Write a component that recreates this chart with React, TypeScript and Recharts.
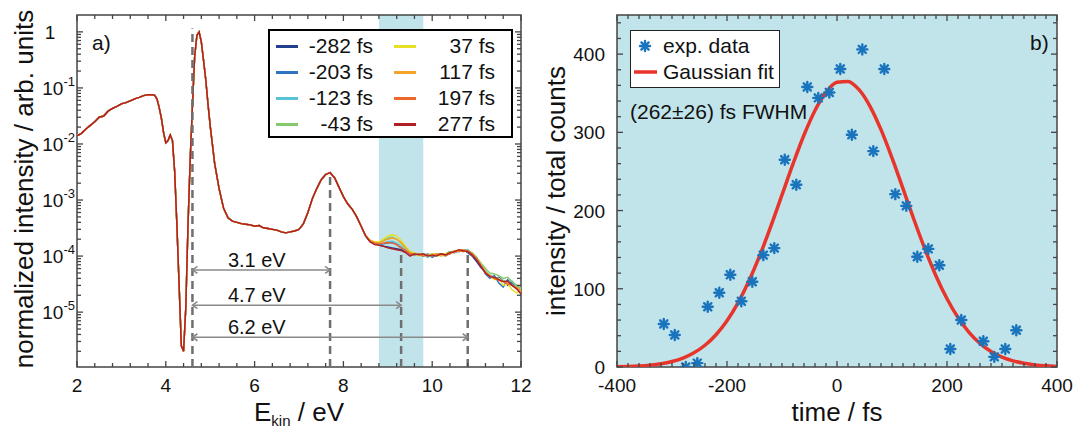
import React from "react";
import {
  LineChart,
  Line,
  ComposedChart,
  Scatter,
  XAxis,
  YAxis,
  ReferenceArea,
  ReferenceLine,
  ReferenceDot,
  Legend,
} from "recharts";

const FONT = "'Liberation Sans', Arial, Helvetica, sans-serif";
const AXIS = "#444444";
const TEXT = "#111111";
const SHADE = "#c1e4ea";

// ---------- panel a) : spectra for several delays ----------
const DELAYS = ["-282 fs", "-203 fs", "-123 fs", "-43 fs", "37 fs", "117 fs", "197 fs", "277 fs"];
const DELAY_COLORS = ["#233f8f", "#2f74c1", "#59c3d6", "#85c96f", "#e6e024", "#f5a42a", "#ef662b", "#b01f24"];

// part of the spectrum where all delays coincide
const E_HEAD = [
  2.0, 2.1, 2.2, 2.3, 2.4, 2.5, 2.6, 2.7, 2.8, 2.9, 3.0, 3.1, 3.2, 3.3, 3.4, 3.5, 3.6, 3.7, 3.75, 3.8,
  3.85, 3.9, 3.95, 4.0, 4.05, 4.1, 4.15, 4.2, 4.25, 4.3, 4.35, 4.4, 4.45, 4.5, 4.55, 4.6, 4.65, 4.7,
  4.75, 4.8, 4.85, 4.9, 4.95, 5.0, 5.1, 5.2, 5.3, 5.4, 5.5, 5.6, 5.7, 5.8, 5.9, 6.0, 6.1, 6.2, 6.3,
  6.4, 6.5, 6.6, 6.7, 6.8, 6.9, 7.0, 7.1, 7.2, 7.3, 7.4, 7.5, 7.6, 7.7, 7.8, 7.9, 8.0, 8.1, 8.2, 8.3,
  8.4, 8.5,
];
const I_HEAD = [
  0.014, 0.0155, 0.0185, 0.0215, 0.025, 0.03, 0.0315, 0.0385, 0.043, 0.047, 0.052, 0.0545, 0.059,
  0.064, 0.068, 0.073, 0.076, 0.0755, 0.074, 0.064, 0.045, 0.029, 0.016, 0.0105, 0.0115, 0.0145,
  0.0115, 0.0032, 0.00035, 0.00003, 0.0000025, 0.000002, 0.000012, 0.00035, 0.0055, 0.048, 0.36,
  0.86, 1.0, 0.66, 0.31, 0.14, 0.052, 0.021, 0.0045, 0.0016, 0.00072, 0.00048, 0.00042, 0.0004,
  0.00038, 0.00037, 0.00036, 0.00034, 0.00035, 0.00032, 0.00031, 0.0003, 0.00029, 0.00027, 0.00026,
  0.00027, 0.00028, 0.0003, 0.00038, 0.0006, 0.00105, 0.0016, 0.0023, 0.00285, 0.0031, 0.0025,
  0.0017, 0.00115, 0.00085, 0.00068, 0.0005, 0.00034, 0.00023,
];

// high-energy part, where the delays differ
const E_TAIL = [
  8.6, 8.7, 8.8, 8.9, 9.0, 9.1, 9.2, 9.3, 9.4, 9.5, 9.6, 9.7, 9.8, 9.9, 10.0, 10.1, 10.2, 10.3, 10.4,
  10.5, 10.6, 10.7, 10.8, 10.9, 11.0, 11.1, 11.2, 11.3, 11.4, 11.5, 11.6, 11.7, 11.8, 11.9, 12.0,
];
const I_TAIL = [
  [1.8e-4, 1.65e-4, 1.6e-4, 1.5e-4, 1.45e-4, 1.4e-4, 1.35e-4, 1.3e-4, 1.2e-4, 1.1e-4, 1.05e-4, 1.1e-4, 1.05e-4, 1.05e-4, 1.0e-4, 1.1e-4, 1.05e-4, 1.1e-4, 1.2e-4, 1.15e-4, 1.25e-4, 1.3e-4, 1.15e-4, 1.0e-4, 8.0e-5, 6.2e-5, 5.2e-5, 4.5e-5, 4.0e-5, 4.2e-5, 3.6e-5, 3.0e-5, 3.4e-5, 2.8e-5, 2.5e-5],
  [1.85e-4, 1.7e-4, 1.6e-4, 1.65e-4, 1.7e-4, 1.75e-4, 1.6e-4, 1.4e-4, 1.25e-4, 1.1e-4, 1.1e-4, 1.05e-4, 1.0e-4, 1.1e-4, 0.95e-4, 1.05e-4, 1.1e-4, 1.0e-4, 1.1e-4, 1.25e-4, 1.2e-4, 1.3e-4, 1.25e-4, 1.1e-4, 9.0e-5, 6.6e-5, 4.8e-5, 4.0e-5, 4.5e-5, 3.3e-5, 2.8e-5, 3.8e-5, 3.2e-5, 3.0e-5, 2.4e-5],
  [1.9e-4, 1.7e-4, 1.65e-4, 1.7e-4, 1.8e-4, 1.85e-4, 1.7e-4, 1.5e-4, 1.3e-4, 1.15e-4, 1.05e-4, 1.1e-4, 1.05e-4, 0.95e-4, 1.05e-4, 1.1e-4, 1.0e-4, 1.05e-4, 1.15e-4, 1.2e-4, 1.25e-4, 1.2e-4, 1.3e-4, 1.1e-4, 9.5e-5, 7.0e-5, 5.5e-5, 4.6e-5, 4.2e-5, 4.0e-5, 3.7e-5, 3.4e-5, 3.6e-5, 2.8e-5, 2.6e-5],
  [1.9e-4, 1.75e-4, 1.75e-4, 1.9e-4, 2.1e-4, 2.2e-4, 2.0e-4, 1.7e-4, 1.4e-4, 1.2e-4, 1.1e-4, 1.05e-4, 1.1e-4, 1.05e-4, 1.1e-4, 1.0e-4, 1.05e-4, 1.1e-4, 1.2e-4, 1.15e-4, 1.3e-4, 1.25e-4, 1.25e-4, 1.15e-4, 9.5e-5, 7.5e-5, 6.0e-5, 5.0e-5, 4.8e-5, 4.5e-5, 4.0e-5, 4.2e-5, 3.5e-5, 3.0e-5, 2.7e-5],
  [1.95e-4, 1.8e-4, 1.8e-4, 2.0e-4, 2.3e-4, 2.4e-4, 2.3e-4, 1.9e-4, 1.5e-4, 1.2e-4, 1.15e-4, 1.0e-4, 1.05e-4, 1.0e-4, 1.1e-4, 1.05e-4, 1.0e-4, 1.1e-4, 1.15e-4, 1.2e-4, 1.25e-4, 1.3e-4, 1.2e-4, 1.1e-4, 9.0e-5, 7.0e-5, 5.2e-5, 4.5e-5, 3.8e-5, 4.0e-5, 3.0e-5, 3.2e-5, 2.5e-5, 2.2e-5, 2.4e-5],
  [1.9e-4, 1.75e-4, 1.7e-4, 1.85e-4, 2.0e-4, 2.1e-4, 2.0e-4, 1.75e-4, 1.4e-4, 1.15e-4, 1.1e-4, 1.05e-4, 1.05e-4, 1.0e-4, 1.05e-4, 1.1e-4, 1.05e-4, 1.0e-4, 1.15e-4, 1.25e-4, 1.2e-4, 1.3e-4, 1.2e-4, 1.05e-4, 8.8e-5, 6.8e-5, 5.2e-5, 4.5e-5, 4.0e-5, 3.8e-5, 3.6e-5, 3.3e-5, 3.0e-5, 2.8e-5, 2.5e-5],
  [1.85e-4, 1.7e-4, 1.65e-4, 1.7e-4, 1.75e-4, 1.7e-4, 1.6e-4, 1.4e-4, 1.25e-4, 1.1e-4, 1.05e-4, 1.1e-4, 1.0e-4, 1.05e-4, 1.0e-4, 1.05e-4, 1.1e-4, 1.05e-4, 1.1e-4, 1.2e-4, 1.25e-4, 1.2e-4, 1.25e-4, 1.1e-4, 9.0e-5, 6.8e-5, 5.0e-5, 4.4e-5, 4.0e-5, 3.7e-5, 3.5e-5, 3.2e-5, 3.0e-5, 2.7e-5, 2.2e-5],
  [1.8e-4, 1.6e-4, 1.55e-4, 1.5e-4, 1.4e-4, 1.35e-4, 1.3e-4, 1.25e-4, 1.15e-4, 1.0e-4, 1.1e-4, 1.05e-4, 1.1e-4, 1.0e-4, 1.05e-4, 1.0e-4, 1.1e-4, 1.05e-4, 1.15e-4, 1.2e-4, 1.3e-4, 1.25e-4, 1.2e-4, 1.05e-4, 8.5e-5, 6.5e-5, 5.0e-5, 4.3e-5, 4.2e-5, 3.8e-5, 3.5e-5, 3.6e-5, 3.0e-5, 2.6e-5, 2.1e-5],
];

// markers drawn in panel a)
const DASH_E = [4.6, 7.7, 9.3, 10.8];
const DASH_TOP = [1.15, 3.0e-3, 1.1e-4, 1.05e-4];
const GAP_START = 4.6;
const GAP_END = [7.7, 9.3, 10.8];
const GAP_Y = [5.66e-5, 1.33e-5, 3.56e-6];
const GAP_LABELS = ["3.1 eV", "4.7 eV", "6.2 eV"];
const GAP_LABEL_X = 6.05;
const GAP_LABEL_Y = [8.55e-5, 2.02e-5, 5.4e-6];
const WINDOW = [8.8, 9.8];

// ---------- panel b) : cross correlation ----------
const T_EXP = [
  -315, -295, -275, -254, -235, -214, -194, -174, -154, -134, -114, -95, -74, -54, -34, -14, 6, 27, 46,
  66, 86, 106, 126, 146, 166, 186, 206, 226, 266, 286, 306, 326,
];
const C_EXP = [
  55, 41, 0, 5, 77, 95, 118, 84, 109, 143, 152, 265, 233, 358, 344, 351, 381, 297, 406, 276, 381,
  221, 206, 141, 151, 130, 23, 60, 33, 13, 23, 47,
];
const T_FIT = [
  -400, -380, -360, -340, -320, -300, -280, -260, -240, -220, -200, -180, -160, -140, -120, -100,
  -80, -60, -40, -20, 0, 20, 40, 60, 80, 100, 120, 140, 160, 180, 200, 220, 240, 260, 280, 300, 320,
  340, 360, 380, 400,
];
const C_FIT = [
  0.4, 0.7, 1.3, 2.4, 4.2, 7.1, 11.5, 18.2, 27.8, 41.2, 59.1, 82.0, 110.2, 143.3, 180.5, 220.0,
  259.6, 296.6, 328.0, 351.1, 363.9, 365.1, 354.5, 333.3, 303.4, 267.3, 228.0, 188.2, 150.5, 116.4,
  87.2, 63.2, 44.4, 30.2, 19.8, 12.6, 7.8, 4.7, 2.7, 1.5, 0.8,
];
const BLUE = "#1a74bd";
const RED = "#e8352c";

// ---------- ticks ----------
const X_TICKS_A = Array.from({ length: 26 }, (_, i) => Number((2 + i * 0.4).toFixed(1)));
const Y_TICKS_A: number[] = [];
for (let n = -6; n <= 0; n++) {
  for (let k = 1; k <= 9; k++) {
    const v = Number((k * Math.pow(10, n)).toPrecision(3));
    if (v > 1.05e-6 && v <= 1) Y_TICKS_A.push(v);
  }
}
const X_TICKS_B = Array.from({ length: 41 }, (_, i) => -400 + i * 20);
const Y_TICKS_B = Array.from({ length: 23 }, (_, i) => i * 20);

const PLOT_H = 352;
const PLOT_W_A = 444;
const PLOT_W_B = 440;

const tickLabel = { fontSize: 19, fill: TEXT, fontFamily: FONT };

const makeXTick = (isMajor: (v: number) => boolean) => (p: any) => {
  const { x, y, payload } = p;
  const major = isMajor(payload.value);
  const len = major ? 6 : 4;
  return (
    <g>
      <line x1={x} y1={y} x2={x} y2={y - len} stroke={AXIS} strokeWidth={1.3} />
      <line x1={x} y1={y - PLOT_H} x2={x} y2={y - PLOT_H + len} stroke={AXIS} strokeWidth={1.3} />
      {major && (
        <text x={x} y={y + 25} textAnchor="middle" {...tickLabel}>
          {payload.value}
        </text>
      )}
    </g>
  );
};

const makeYTick = (plotW: number, isMajor: (v: number) => boolean, label: (x: number, y: number, v: number) => React.ReactNode) =>
  (p: any) => {
    const { x, y, payload } = p;
    const major = isMajor(payload.value);
    const len = major ? 6 : 4;
    return (
      <g>
        <line x1={x} y1={y} x2={x + len} y2={y} stroke={AXIS} strokeWidth={1.3} />
        <line x1={x + plotW} y1={y} x2={x + plotW - len} y2={y} stroke={AXIS} strokeWidth={1.3} />
        {major && label(x, y, payload.value)}
      </g>
    );
  };

const isDecade = (v: number) => Math.abs(Math.log10(v) - Math.round(Math.log10(v))) < 1e-6;

const xTickA = makeXTick((v) => Math.abs(v - Math.round(v)) < 1e-6 && Math.round(v) % 2 === 0);
const yTickA = makeYTick(PLOT_W_A, isDecade, (x, y, v) => {
  const e = Math.round(Math.log10(v));
  if (e === 0)
    return (
      <text x={x - 27} y={y + 7} textAnchor="middle" {...tickLabel}>
        1
      </text>
    );
  return (
    <text x={x - 2} y={y + 7} textAnchor="end" {...tickLabel}>
      10
      <tspan fontSize={13} dy={-9}>
        {e}
      </tspan>
    </text>
  );
});
const xTickB = makeXTick((v) => v % 200 === 0);
const yTickB = makeYTick(PLOT_W_B, (v) => v % 100 === 0, (x, y, v) => (
  <text x={x - 12} y={y + 7} textAnchor="end" {...tickLabel}>
    {v}
  </text>
));

// ---------- shapes ----------
const GapArrow = (p: any) => {
  const { x1, y1, x2, y2 } = p;
  const h = 5;
  return (
    <g stroke="#8a8a8a" strokeWidth={1.6} fill="none">
      <line x1={x1} y1={y1} x2={x2} y2={y2} />
      <polyline points={`${x1 + h},${y1 - 3.5} ${x1},${y1} ${x1 + h},${y1 + 3.5}`} />
      <polyline points={`${x2 - h},${y2 - 3.5} ${x2},${y2} ${x2 - h},${y2 + 3.5}`} />
    </g>
  );
};

const Star = (p: any) => {
  const { cx, cy } = p;
  const r = 5;
  const d = r * 0.72;
  return (
    <g stroke={BLUE} strokeWidth={2.4} strokeLinecap="round">
      <line x1={cx - r} y1={cy} x2={cx + r} y2={cy} />
      <line x1={cx} y1={cy - r} x2={cx} y2={cy + r} />
      <line x1={cx - d} y1={cy - d} x2={cx + d} y2={cy + d} />
      <line x1={cx - d} y1={cy + d} x2={cx + d} y2={cy - d} />
    </g>
  );
};

const SpectraLegend = () => (
  <div
    style={{
      position: "relative",
      width: 245,
      height: 109,
      boxSizing: "border-box",
      border: "2.5px solid #000",
      background: "#fff",
      fontFamily: FONT,
      fontSize: 21,
      color: TEXT,
    }}
  >
    {DELAYS.map((name, i) => {
      const col = Math.floor(i / 4);
      const row = i % 4;
      const cy = 15 + row * 26;
      return (
        <React.Fragment key={name}>
          <div
            style={{
              position: "absolute",
              left: col ? 124 : 6,
              top: cy - 1.5,
              width: 22,
              height: 3,
              background: DELAY_COLORS[i],
            }}
          />
          <div
            style={{
              position: "absolute",
              right: col ? 16 : 138,
              top: cy - 12,
              lineHeight: "24px",
              whiteSpace: "nowrap",
            }}
          >
            {name}
          </div>
        </React.Fragment>
      );
    })}
  </div>
);

const FitLegend = () => (
  <div
    style={{
      position: "relative",
      width: 150,
      height: 58,
      boxSizing: "border-box",
      border: "1.5px solid #222",
      background: "#fff",
      fontFamily: FONT,
      fontSize: 21,
      color: TEXT,
    }}
  >
    <svg style={{ position: "absolute", left: 0, top: 0 }} width={30} height={55}>
      <Star cx={14} cy={15} />
      <line x1={3} y1={41} x2={26} y2={41} stroke={RED} strokeWidth={3.5} />
    </svg>
    <div style={{ position: "absolute", left: 32, top: 3, lineHeight: "24px" }}>exp. data</div>
    <div style={{ position: "absolute", left: 32, top: 29, lineHeight: "24px" }}>Gaussian fit</div>
  </div>
);

// ---------- charts ----------
const spectraRows = [
  ...E_HEAD.map((e, k) => {
    const row: Record<string, number> = { e };
    DELAYS.forEach((_, s) => (row[`s${s}`] = I_HEAD[k]));
    return row;
  }),
  ...E_TAIL.map((e, k) => {
    const row: Record<string, number> = { e };
    DELAYS.forEach((_, s) => (row[`s${s}`] = I_TAIL[s][k]));
    return row;
  }),
];

const SpectraChart = () => (
  <LineChart width={540} height={430} data={spectraRows} margin={{ top: 15, right: 19, bottom: 0, left: 0 }}>
    <ReferenceArea x1={WINDOW[0]} x2={WINDOW[1]} fill={SHADE} fillOpacity={1} stroke="none" />
    <XAxis
      type="number"
      dataKey="e"
      domain={[2, 12]}
      ticks={X_TICKS_A}
      interval={0}
      height={63}
      tickSize={0}
      tickMargin={0}
      tickLine={false}
      axisLine={false}
      tick={xTickA}
    />
    <YAxis
      type="number"
      scale="log"
      domain={[1.05e-6, 2]}
      allowDataOverflow
      ticks={Y_TICKS_A}
      interval={0}
      width={77}
      tickSize={0}
      tickMargin={0}
      tickLine={false}
      axisLine={false}
      tick={yTickA}
    />
    {DELAYS.map((name, s) => (
      <Line
        key={name}
        name={name}
        dataKey={`s${s}`}
        stroke={DELAY_COLORS[s]}
        strokeWidth={1.4}
        dot={false}
        type="linear"
        isAnimationActive={false}
      />
    ))}
    {DASH_E.map((e, i) => (
      <ReferenceLine
        key={e}
        segment={[
          { x: e, y: 1.05e-6 },
          { x: e, y: DASH_TOP[i] },
        ]}
        stroke="#6f6f6f"
        strokeWidth={2.5}
        strokeDasharray="8 5"
      />
    ))}
    {GAP_END.map((e, i) => (
      <ReferenceLine
        key={e}
        segment={[
          { x: GAP_START, y: GAP_Y[i] },
          { x: e, y: GAP_Y[i] },
        ]}
        shape={GapArrow}
      />
    ))}
    {GAP_LABELS.map((label, i) => (
      <ReferenceDot
        key={label}
        x={GAP_LABEL_X}
        y={GAP_LABEL_Y[i]}
        r={0}
        shape={(p: any) => (
          <text x={p.cx} y={p.cy + 7} textAnchor="middle" fontSize={20} fill={TEXT} fontFamily={FONT}>
            {label}
          </text>
        )}
      />
    ))}
    <ReferenceArea x1={2} x2={12} y1={1.05e-6} y2={2} fill="none" stroke={AXIS} strokeWidth={1.5} />
    <Legend
      layout="horizontal"
      verticalAlign="middle"
      align="center"
      wrapperStyle={{ left: 268, top: 29, width: 245, height: 109 }}
      content={SpectraLegend}
    />
  </LineChart>
);

const expData = T_EXP.map((t, i) => ({ t, v: C_EXP[i] }));
const fitData = T_FIT.map((t, i) => ({ t, v: C_FIT[i] }));

const CrossCorrChart = () => (
  <ComposedChart width={550} height={430} margin={{ top: 15, right: 33, bottom: 0, left: 0 }}>
    <ReferenceArea x1={-400} x2={400} y1={0} y2={450} fill={SHADE} fillOpacity={1} stroke="none" />
    <XAxis
      type="number"
      dataKey="t"
      domain={[-400, 400]}
      ticks={X_TICKS_B}
      interval={0}
      height={63}
      tickSize={0}
      tickMargin={0}
      tickLine={false}
      axisLine={false}
      tick={xTickB}
    />
    <YAxis
      type="number"
      dataKey="v"
      domain={[0, 450]}
      allowDataOverflow
      ticks={Y_TICKS_B}
      interval={0}
      width={77}
      tickSize={0}
      tickMargin={0}
      tickLine={false}
      axisLine={false}
      tick={yTickB}
    />
    <Line
      data={fitData}
      dataKey="v"
      name="Gaussian fit"
      stroke={RED}
      strokeWidth={3.5}
      dot={false}
      type="monotone"
      isAnimationActive={false}
    />
    <Scatter data={expData} dataKey="v" name="exp. data" shape={Star} fill={BLUE} isAnimationActive={false} />
    <ReferenceArea x1={-400} x2={400} y1={0} y2={450} fill="none" stroke={AXIS} strokeWidth={1.5} />
    <Legend
      layout="horizontal"
      verticalAlign="middle"
      align="center"
      wrapperStyle={{ left: 90, top: 30, width: 150, height: 58 }}
      content={FitLegend}
    />
  </ComposedChart>
);

export default function App() {
  return (
    <div style={{ position: "absolute", left: 0, top: 0, width: 1090, height: 430, background: "#fff" }}>
      <div style={{ position: "absolute", left: 0, top: 0 }}>
        <SpectraChart />
      </div>
      <div style={{ position: "absolute", left: 540, top: 0 }}>
        <CrossCorrChart />
      </div>
      <svg
        width={1090}
        height={430}
        style={{ position: "absolute", left: 0, top: 0, pointerEvents: "none" }}
        fontFamily={FONT}
        fill={TEXT}
      >
        <text transform="translate(33, 189) rotate(-90)" textAnchor="middle" fontSize={26}>
          normalized intensity / arb. units
        </text>
        <text x={299} y={421} textAnchor="middle" fontSize={26}>
          E
          <tspan fontSize={15} dy={5}>
            kin
          </tspan>
          <tspan dy={-5}> / eV</tspan>
        </text>
        <text x={92} y={50} fontSize={21}>
          a)
        </text>
        <text transform="translate(565, 191) rotate(-90)" textAnchor="middle" fontSize={26}>
          intensity / total counts
        </text>
        <text x={837} y={421} textAnchor="middle" fontSize={26}>
          time / fs
        </text>
        <text x={1030} y={50} fontSize={21}>
          b)
        </text>
        <text x={630} y={119} fontSize={21}>
          (262±26) fs FWHM
        </text>
      </svg>
    </div>
  );
}
